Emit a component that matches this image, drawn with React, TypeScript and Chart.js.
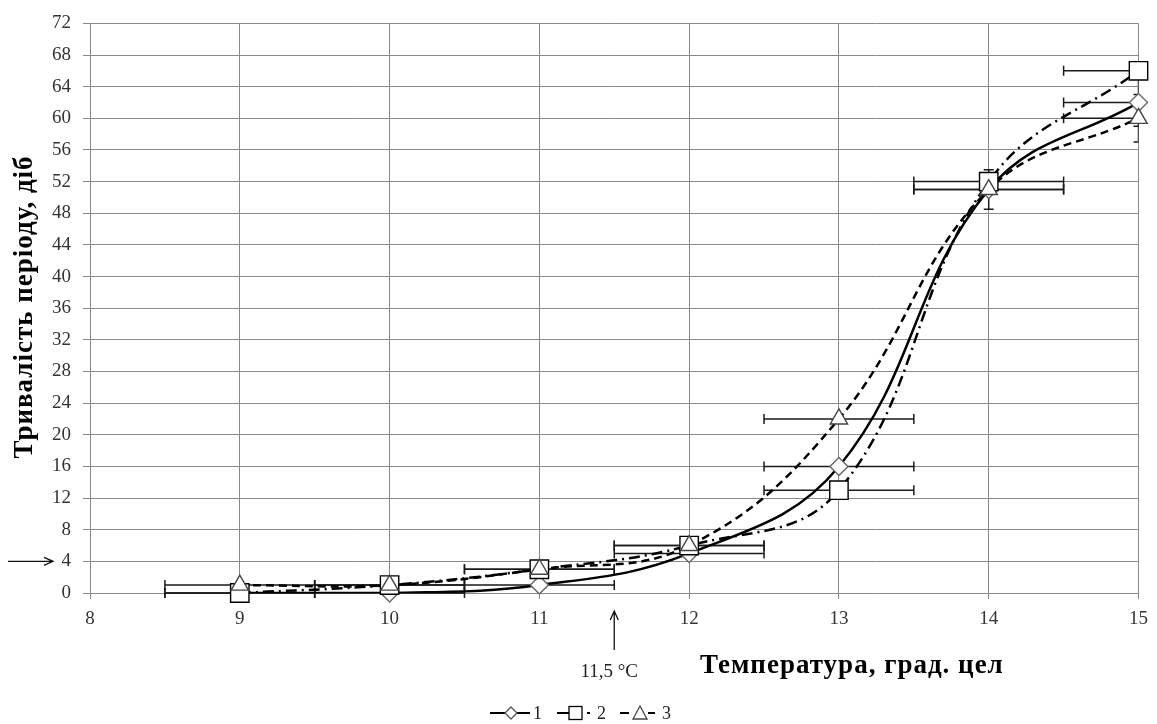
import React, { useEffect, useRef } from "react";
import { Chart, registerables } from "chart.js";

Chart.register(...registerables);

// ---------- data ----------
const temperatures = [9, 10, 11, 12, 13, 14, 15];
const series1 = [0, 0, 1, 5, 16, 51, 62];
const series2 = [0, 1, 3, 6, 13, 52, 66];
const series3 = [1, 1, 3, 6, 22, 51, 60];
const xErr1 = [0.5, 0.5, 0.5, 0.5, 0.5, 0.5, 0.5];
const xErr2 = [0.5, 0.5, 0.5, 0.5, 0.5, 0.5, 0.5];
const xErr3 = [0.5, 0.5, 0.5, 0.5, 0.5, 0.5, 0.5];
const yErr1 = [0, 0, 0, 0, 0, 0, 3];
const yErr2 = [0, 0, 0, 0, 0, 0, 0];
const yErr3 = [0, 0, 0, 0, 0, 2.5, 3];
const seriesLabels = ["1", "2", "3"];
const xMin = 8;
const xMax = 15;
const yMin = 0;
const yMax = 72;
const yStep = 4;
const yAxisTitle = "Тривалість періоду, діб";
const xAxisTitle = "Температура, град. цел";
const thresholdLabel = "11,5 °C";
const thresholdX = 11.5;
const thresholdY = 4;

const FONT = "'Liberation Serif', 'Times New Roman', serif";

function toPoints(xs: number[], ys: number[]) {
  return xs.map((x, i) => ({ x, y: ys[i] }));
}

const errorSets = [
  { ys: series1, xe: xErr1, ye: yErr1 },
  { ys: series2, xe: xErr2, ye: yErr2 },
  { ys: series3, xe: xErr3, ye: yErr3 },
];

const errorBarPlugin = {
  id: "errorBars",
  beforeDatasetsDraw(chart: any) {
    const { ctx, chartArea, scales } = chart;
    const xs = scales.x;
    const ys = scales.y;
    ctx.save();
    ctx.beginPath();
    ctx.rect(chartArea.left, chartArea.top - 20, chartArea.right - chartArea.left, chartArea.bottom - chartArea.top + 40);
    ctx.clip();
    ctx.strokeStyle = "#1a1a1a";
    ctx.lineWidth = 1.5;
    const cap = 5;
    errorSets.forEach((s) => {
      temperatures.forEach((t, i) => {
        const py = ys.getPixelForValue(s.ys[i]);
        const px = xs.getPixelForValue(t);
        if (s.xe[i] > 0) {
          const x0 = xs.getPixelForValue(t - s.xe[i]);
          const x1 = xs.getPixelForValue(t + s.xe[i]);
          ctx.beginPath();
          ctx.moveTo(x0, py);
          ctx.lineTo(x1, py);
          ctx.moveTo(x0, py - cap);
          ctx.lineTo(x0, py + cap);
          ctx.moveTo(x1, py - cap);
          ctx.lineTo(x1, py + cap);
          ctx.stroke();
        }
        if (s.ye[i] > 0) {
          const y0 = ys.getPixelForValue(s.ys[i] - s.ye[i]);
          const y1 = ys.getPixelForValue(s.ys[i] + s.ye[i]);
          ctx.beginPath();
          ctx.moveTo(px, y0);
          ctx.lineTo(px, y1);
          ctx.moveTo(px - cap, y0);
          ctx.lineTo(px + cap, y0);
          ctx.moveTo(px - cap, y1);
          ctx.lineTo(px + cap, y1);
          ctx.stroke();
        }
      });
    });
    ctx.restore();
  },
};

function drawDiamond(ctx: CanvasRenderingContext2D, x: number, y: number, r: number) {
  ctx.beginPath();
  ctx.moveTo(x - r, y);
  ctx.lineTo(x, y - r);
  ctx.lineTo(x + r, y);
  ctx.lineTo(x, y + r);
  ctx.closePath();
}

const annotationPlugin = {
  id: "annotations",
  afterDraw(chart: any) {
    const { ctx, scales } = chart;
    ctx.save();
    // y title
    ctx.fillStyle = "#000";
    ctx.font = `bold 27px ${FONT}`;
    (ctx as any).letterSpacing = "1px";
    ctx.textAlign = "center";
    ctx.textBaseline = "middle";
    ctx.save();
    ctx.translate(25, 307);
    ctx.rotate(-Math.PI / 2);
    ctx.fillText(yAxisTitle, 0, 0);
    ctx.restore();
    // x title
    ctx.textAlign = "left";
    ctx.textBaseline = "alphabetic";
    ctx.fillText(xAxisTitle, 700, 673);
    (ctx as any).letterSpacing = "0px";

    // threshold label + up arrow
    const ax = scales.x.getPixelForValue(thresholdX);
    ctx.font = `19px ${FONT}`;
    ctx.fillStyle = "#222";
    ctx.textAlign = "center";
    ctx.fillText(thresholdLabel, ax - 5, 677);
    ctx.strokeStyle = "#111";
    ctx.lineWidth = 1.3;
    ctx.beginPath();
    ctx.moveTo(ax, 650);
    ctx.lineTo(ax, 611);
    ctx.moveTo(ax - 4, 620);
    ctx.lineTo(ax, 611);
    ctx.lineTo(ax + 4, 620);
    ctx.stroke();

    // left arrow at y threshold
    const ay = scales.y.getPixelForValue(thresholdY);
    ctx.beginPath();
    ctx.moveTo(8, ay);
    ctx.lineTo(53, ay);
    ctx.moveTo(44, ay - 4);
    ctx.lineTo(53, ay);
    ctx.lineTo(44, ay + 4);
    ctx.stroke();

    // legend
    const ly = 713;
    ctx.lineWidth = 2.2;
    ctx.strokeStyle = "#000";
    // item 1
    ctx.beginPath();
    ctx.moveTo(490, ly);
    ctx.lineTo(530, ly);
    ctx.stroke();
    drawDiamond(ctx, 511, ly, 6);
    ctx.fillStyle = "#fff";
    ctx.fill();
    ctx.lineWidth = 1.3;
    ctx.strokeStyle = "#555";
    ctx.stroke();
    // item 2
    ctx.lineWidth = 2.2;
    ctx.strokeStyle = "#000";
    ctx.beginPath();
    ctx.moveTo(557, ly);
    ctx.lineTo(570, ly);
    ctx.moveTo(587, ly);
    ctx.lineTo(590, ly);
    ctx.stroke();
    ctx.fillStyle = "#fff";
    ctx.fillRect(569, ly - 6.5, 13, 13);
    ctx.lineWidth = 1.3;
    ctx.strokeRect(569, ly - 6.5, 13, 13);
    // item 3
    ctx.lineWidth = 2.2;
    ctx.beginPath();
    ctx.moveTo(620, ly);
    ctx.lineTo(629, ly);
    ctx.moveTo(648, ly);
    ctx.lineTo(655, ly);
    ctx.stroke();
    ctx.beginPath();
    ctx.moveTo(640, ly - 7);
    ctx.lineTo(647, ly + 6);
    ctx.lineTo(633, ly + 6);
    ctx.closePath();
    ctx.fillStyle = "#fff";
    ctx.fill();
    ctx.lineWidth = 1.3;
    ctx.strokeStyle = "#444";
    ctx.stroke();
    // labels
    ctx.fillStyle = "#222";
    ctx.font = `18px ${FONT}`;
    ctx.textAlign = "left";
    ctx.textBaseline = "middle";
    ctx.fillText(seriesLabels[0], 533, ly + 1);
    ctx.fillText(seriesLabels[1], 597, ly + 1);
    ctx.fillText(seriesLabels[2], 662, ly + 1);
    ctx.restore();
  },
};

export default function App() {
  const canvasRef = useRef<HTMLCanvasElement | null>(null);

  useEffect(() => {
    const canvas = canvasRef.current;
    if (!canvas) return;
    const lineBase = {
      type: "line" as const,
      borderColor: "#000",
      borderWidth: 2.5,
      pointRadius: 0,
      pointHoverRadius: 0,
      fill: false,
      tension: 0.4,
      order: 5,
    };
    const markerBase = {
      type: "line" as const,
      showLine: false,
      backgroundColor: "#fff",
      pointBorderWidth: 1.4,
      clip: false as any,
    };
    const chart = new Chart(canvas, {
      type: "line",
      data: {
        datasets: [
          { ...lineBase, label: seriesLabels[0], data: toPoints(temperatures, series1) },
          { ...lineBase, label: seriesLabels[1], data: toPoints(temperatures, series2), borderDash: [11, 5, 2, 5] },
          { ...lineBase, label: seriesLabels[2], data: toPoints(temperatures, series3), borderDash: [8, 5] },
          {
            ...markerBase,
            label: seriesLabels[0] + "m",
            data: toPoints(temperatures, series1),
            pointStyle: "rectRot",
            pointRadius: 9,
            pointBorderColor: "#666",
            pointBackgroundColor: "#fff",
            order: 2,
          },
          {
            ...markerBase,
            label: seriesLabels[1] + "m",
            data: toPoints(temperatures, series2),
            pointStyle: "rect",
            pointRadius: 13,
            pointBorderColor: "#000",
            pointBackgroundColor: "#fff",
            order: 1,
          },
          {
            ...markerBase,
            label: seriesLabels[2] + "m",
            data: toPoints(temperatures, series3),
            pointStyle: "triangle",
            pointRadius: 10,
            pointBorderColor: "#444",
            pointBackgroundColor: "#fff",
            order: 0,
          },
        ] as any,
      },
      options: {
        responsive: false,
        animation: false,
        devicePixelRatio: 1,
        layout: { padding: { top: 19, right: 16, left: 0, bottom: 0 } },
        plugins: {
          legend: { display: false },
          tooltip: { enabled: false },
        },
        events: [],
        scales: {
          x: {
            type: "linear",
            min: xMin,
            max: xMax,
            afterFit: (s: any) => {
              s.height = 131;
            },
            ticks: {
              stepSize: 1,
              color: "#333",
              font: { family: FONT, size: 19 },
              padding: 9,
              maxRotation: 0,
            },
            grid: { color: "#8a8a8a", lineWidth: 1, tickLength: 6, drawTicks: true },
            border: { color: "#8a8a8a", width: 1 },
          },
          y: {
            type: "linear",
            min: yMin,
            max: yMax,
            afterFit: (s: any) => {
              s.width = 90;
            },
            ticks: {
              stepSize: yStep,
              color: "#333",
              font: { family: FONT, size: 19 },
              padding: 12,
            },
            grid: { color: "#8a8a8a", lineWidth: 1, tickLength: 7, drawTicks: true },
            border: { color: "#8a8a8a", width: 1 },
          },
        },
      } as any,
      plugins: [errorBarPlugin, annotationPlugin],
    });
    return () => chart.destroy();
  }, []);

  return (
    <canvas
      ref={canvasRef}
      width={1157}
      height={724}
      style={{ position: "fixed", left: 0, top: 0, width: 1157, height: 724, background: "#fff" }}
    />
  );
}
